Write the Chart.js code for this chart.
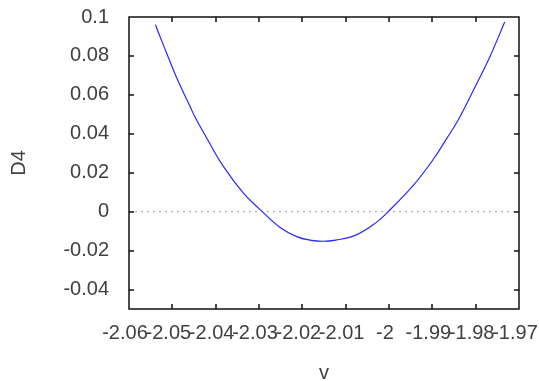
<!DOCTYPE html>
<html>
<head>
<meta charset="utf-8">
<script src="https://cdn.jsdelivr.net/npm/chart.js@4.4.1/dist/chart.umd.min.js"></script>
<style>
  html, body { margin: 0; padding: 0; background: #fff; }
  #wrap { width: 539px; height: 381px; }
</style>
</head>
<body>
<div id="wrap"><canvas id="c"></canvas></div>
<script>
// curve D4(v)
const vValues = [-2.0539, -2.0521, -2.0490, -2.0459, -2.0448, -2.0421, -2.0383, -2.0336, -2.0298,
                 -2.0252, -2.0213, -2.0183, -2.0153, -2.0123, -2.0075, -2.0029, -2.0002,
                 -1.9944, -1.9898, -1.9867, -1.9841, -1.9806, -1.9768, -1.9733];
const d4Values = [0.0960, 0.0858, 0.0688, 0.0540, 0.0488, 0.0380, 0.0235, 0.0095, 0.0012,
                  -0.0080, -0.0128, -0.0146, -0.0152, -0.0146, -0.0119, -0.0055, 0.0000,
                  0.0135, 0.0268, 0.0375, 0.0468, 0.0620, 0.0792, 0.0974];

// axes
const xTicks = [-2.06, -2.05, -2.04, -2.03, -2.02, -2.01, -2, -1.99, -1.98, -1.97];
const xLabels = ['-2.06', '-2.05', '-2.04', '-2.03', '-2.02', '-2.01', '-2', '-1.99', '-1.98', '-1.97'];
const yTicks = [-0.04, -0.02, 0, 0.02, 0.04, 0.06, 0.08, 0.1];
const yLabels = ['-0.04', '-0.02', '0', '0.02', '0.04', '0.06', '0.08', '0.1'];
const xRange = [-2.06, -1.97];
const yRange = [-0.05, 0.1];

const textColor = '#404040';
const font = { family: '"Liberation Sans", Arial, sans-serif', size: 20 };

// inward ticks on all four sides + full frame (gnuplot style)
const framePlugin = {
    id: 'frame',
    afterDraw(chart) {
        const { ctx, chartArea: a, scales } = chart;
        const len = 5;
        ctx.save();
        ctx.strokeStyle = '#111';
        ctx.lineWidth = 1.5;
        ctx.beginPath();
        ctx.rect(a.left, a.top, a.right - a.left, a.bottom - a.top);
        xTicks.forEach(v => {
            const px = Math.round(scales.x.getPixelForValue(v));
            ctx.moveTo(px, a.bottom); ctx.lineTo(px, a.bottom - len);
            ctx.moveTo(px, a.top); ctx.lineTo(px, a.top + len);
        });
        yTicks.forEach(v => {
            const py = Math.round(scales.y.getPixelForValue(v));
            ctx.moveTo(a.left, py); ctx.lineTo(a.left + len, py);
            ctx.moveTo(a.right, py); ctx.lineTo(a.right - len, py);
        });
        ctx.stroke();
        ctx.restore();
    }
};

new Chart(document.getElementById('c'), {
    type: 'line',
    data: {
        datasets: [
            {
                data: vValues.map((v, i) => ({ x: v, y: d4Values[i] })),
                borderColor: 'rgb(40,40,255)',
                borderWidth: 1.2,
                pointRadius: 0,
                tension: 0.4,
                fill: false
            },
            {
                // zero line
                data: [{ x: xRange[0], y: 0 }, { x: xRange[1], y: 0 }],
                borderColor: '#a0a0a0',
                borderWidth: 1,
                borderDash: [2, 4],
                pointRadius: 0,
                fill: false
            }
        ]
    },
    options: {
        responsive: true,
        maintainAspectRatio: false,
        animation: false,
        layout: { padding: { left: 7, right: 20, top: 17, bottom: 0 } },
        plugins: { legend: { display: false }, tooltip: { enabled: false } },
        scales: {
            x: {
                type: 'linear',
                min: xRange[0],
                max: xRange[1],
                afterBuildTicks: s => { s.ticks = xTicks.map(v => ({ value: v })); },
                afterFit: s => { s.height = 72; s.paddingLeft = 0; s.paddingRight = 0; },
                grid: { display: false, drawTicks: false },
                border: { display: false },
                ticks: {
                    autoSkip: false, maxRotation: 0, minRotation: 0,
                    padding: 12, labelOffset: -4, color: textColor, font: font,
                    callback: (v, i) => xLabels[i]
                },
                title: { display: true, text: 'v', color: textColor, font: font, padding: { top: 0, bottom: -4 } }
            },
            y: {
                min: yRange[0],
                max: yRange[1],
                afterBuildTicks: s => { s.ticks = yTicks.map(v => ({ value: v })); },
                afterFit: s => { s.width = 122; s.paddingTop = 0; s.paddingBottom = 0; },
                grid: { display: false, drawTicks: false },
                border: { display: false },
                ticks: {
                    padding: 20, color: textColor, font: font,
                    callback: (v, i) => yLabels[i]
                },
                title: { display: true, text: 'D4', color: textColor, font: font, padding: 0 }
            }
        }
    },
    plugins: [framePlugin]
});
</script>
</body>
</html>
